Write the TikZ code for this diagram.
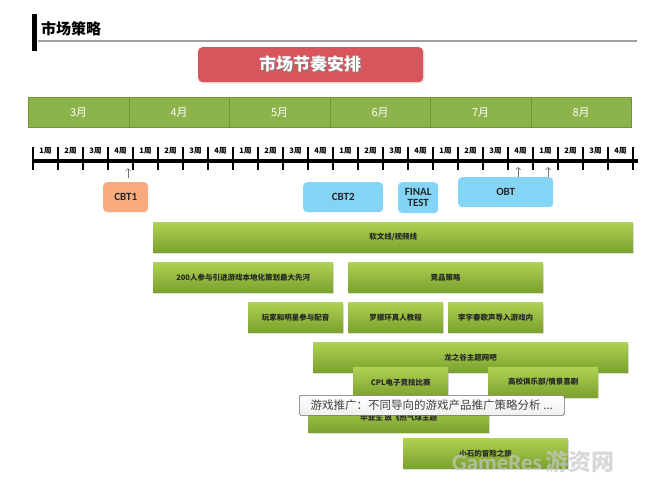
\documentclass[tikz,border=0pt]{standalone}
\usepackage{fontspec}
\setmainfont{Carlito}
\newfontfamily\cjk{Noto Sans CJK SC}
\usetikzlibrary{shadows,arrows.meta}
\definecolor{gA}{HTML}{AFD154}
\definecolor{gB}{HTML}{7BA12E}
\definecolor{mfill}{HTML}{8DB44B}
\definecolor{mline}{HTML}{6E9633}
\definecolor{redb}{HTML}{D9555C}
\definecolor{orab}{HTML}{F8AB7E}
\definecolor{blub}{HTML}{84D4F6}
\newcommand{\gbar}[6]{\node[gbar, minimum width={#4pt-#2pt}, minimum height={#5pt-#3pt}, anchor=north west] (#1) at (#2,#3) {#6};}
\newcommand{\bxnode}[7]{\node[#7, minimum width={#4pt-#2pt}, minimum height={#5pt-#3pt}, anchor=north west] (#1) at (#2,#3) {#6};}
\begin{document}
\begin{tikzpicture}[x=1pt,y=-1pt,
  gbar/.style={draw=none, top color=gA, bottom color=gB, inner sep=0pt,
    drop shadow={opacity=0.25, shadow xshift=1pt, shadow yshift=-1.5pt},
    font=\cjk\bfseries\fontsize{7.5}{8}\selectfont, text=black!85},
  month/.style={draw=mline, fill=mfill, line width=0.8pt, inner sep=0pt,
    font=\cjk\fontsize{11}{12}\selectfont, text=white},
  mile/.style={draw=none, rounded corners=4pt, inner sep=0pt, align=center,
    font=\bfseries\fontsize{11}{10.5}\selectfont, text=black!85},
  weeklbl/.style={font=\cjk\bfseries\fontsize{7.5}{7.5}\selectfont, inner sep=0pt},
  tickline/.style={line width=2pt, black},
  uparrow/.style={black!55, line width=0.7pt, -{Straight Barb[length=2.5pt,width=5pt]}},
]
\useasboundingbox (0,0) rectangle (659,482);
% header
\fill[black] (32,14) rectangle (37,51);
\draw[gray!75, line width=1.5pt] (38,41) -- (637,41);
\node[anchor=west, inner sep=0pt, font=\cjk\bfseries\fontsize{15}{15}\selectfont] (title) at (41,29) {市场策略};
% red box
\node[fill=redb, rounded corners=4pt, minimum width=224pt, minimum height=34pt, anchor=north west, inner sep=0pt,
  drop shadow={opacity=0.2, shadow xshift=1.5pt, shadow yshift=-1.5pt},
  font=\cjk\bfseries\fontsize{17}{17}\selectfont, text=white] (plan) at (198,47) {\tikz[baseline]{\node[inner sep=0pt,anchor=base,text=black!50] at (0.8pt,-0.8pt){市场节奏安排};\node[inner sep=0pt,anchor=base] at (0,0){市场节奏安排};}};
% month bar
\bxnode{m3}{28}{97}{128.5}{127}{3月}{month}
\bxnode{m4}{128.5}{97}{229}{127}{4月}{month}
\bxnode{m5}{229}{97}{329.5}{127}{5月}{month}
\bxnode{m6}{329.5}{97}{430}{127}{6月}{month}
\bxnode{m7}{430}{97}{530.5}{127}{7月}{month}
\bxnode{m8}{530.5}{97}{631}{127}{8月}{month}
% timeline
\coordinate (tlA) at (32,161);
\coordinate (tlB) at (638,161);
\draw[line width=4pt] (tlA) -- (tlB);
\foreach \i in {0,...,24} {\draw[tickline] (33+25*\i,147) -- (33+25*\i,170);}
\foreach \i in {0,...,23} {\pgfmathtruncatemacro{\w}{mod(\i,4)+1}
  \node[weeklbl] (wk\i) at (45.5+25*\i,151) {\w 周};}
% arrows
\coordinate (a1s) at (128,178); \coordinate (a1e) at (128,168);
\coordinate (a2s) at (518,177); \coordinate (a2e) at (518,167);
\coordinate (a3s) at (548,177); \coordinate (a3e) at (548,167);
\draw[uparrow] (a1s) -- (a1e);
\draw[uparrow] (a2s) -- (a2e);
\draw[uparrow] (a3s) -- (a3e);
% milestones
\bxnode{cbt1}{103}{182}{148}{212}{CBT1}{mile, fill=orab}
\bxnode{cbt2}{303}{182}{383}{212}{CBT2}{mile, fill=blub}
\bxnode{final}{398}{182}{438}{213}{FINAL\\TEST}{mile, fill=blub}
\bxnode{obt}{458}{177}{553}{207}{OBT}{mile, fill=blub}
% green bars
\gbar{soft}{153}{222}{633}{252}{软文线/视频线}
\gbar{local}{153}{262}{333}{292}{200人参与引进游戏本地化策划最大先河}
\gbar{comp}{348}{262}{543}{292}{竞品策略}
\gbar{voice}{248}{302}{343}{332}{玩家和明星参与配音}
\gbar{luo}{348}{302}{443}{332}{罗振环真人教程}
\gbar{li}{448}{302}{543}{332}{李宇春歌声导入游戏内}
\gbar{dragon}{313}{342}{628}{372}{龙之谷主题网吧}
\gbar{cpl}{353}{367}{448}{397}{CPL电子竞技比赛}
\gbar{club}{488}{367}{598}{397}{高校俱乐部/情景喜剧}
\gbar{grad}{308}{402}{489}{432}{毕业生 放飞热气球主题}
\gbar{stone}{403}{438}{568}{468}{小石的冒险之旅}
% tooltip
\node[draw=gray!80!black, line width=0.6pt, top color=white, bottom color=black!6, rounded corners=1.5pt,
  minimum width=265pt, minimum height=20pt, anchor=north west, inner sep=0pt,
  font=\cjk\fontsize{11.5}{12}\selectfont, text=black!75] (tip) at (299,395) {游戏推广：不同导向的游戏产品推广策略分析 ...};
% watermark
\node[anchor=west, inner sep=0pt, text=black!22, opacity=0.7, font=\bfseries\fontsize{23}{23}\selectfont] (wm) at (452,462) {GameRes\,{\cjk 游资网}};
\end{tikzpicture}
\end{document}
